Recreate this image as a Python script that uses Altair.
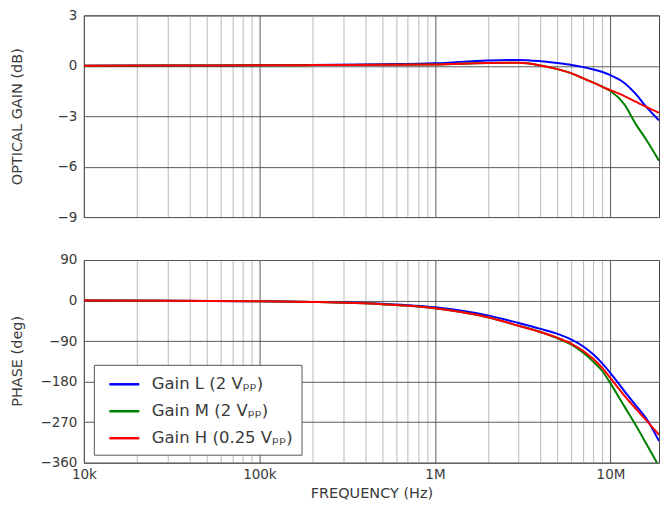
import altair as alt
import pandas as pd

# ---- data ----
freq = [1e4, 3e4, 1e5, 2e5, 5e5, 1e6, 2e6, 3e6, 4e6, 5e6, 6e6, 7e6, 8e6, 9e6,
        1e7, 1.2e7, 1.4e7, 1.6e7, 1.89e7]

series_names = ["Gain L (2 Vₚₚ)", "Gain M (2 Vₚₚ)", "Gain H (0.25 Vₚₚ)"]
series_colors = ["#0000ff", "#008000", "#ff0000"]

gain_L = [0, 0.01, 0.03, 0.05, 0.09, 0.15, 0.32, 0.35, 0.27, 0.16, 0.05, -0.08,
          -0.22, -0.37, -0.56, -1.02, -1.7, -2.45, -3.25]
gain_M = [0, 0.01, 0.03, 0.04, 0.06, 0.08, 0.17, 0.18, 0.02, -0.2, -0.45, -0.75,
          -1.0, -1.25, -1.5, -2.3, -3.5, -4.4, -5.65]
gain_H = [0, 0.01, 0.03, 0.04, 0.06, 0.08, 0.17, 0.18, 0.02, -0.2, -0.45, -0.75,
          -1.0, -1.25, -1.45, -1.8, -2.15, -2.45, -2.8]

phase_L = [0, -0.5, -1.5, -3, -7, -15, -33, -50, -63, -74, -87, -102, -120, -140,
           -161, -201, -234, -262, -312]
phase_M = [0, -0.5, -1.5, -3, -8, -17, -37, -56, -70, -84, -98, -116, -136, -157,
           -184, -235, -278, -318, -368]
phase_H = [0, -0.5, -1.5, -3, -8, -17, -37, -56, -70, -83, -96, -112, -130, -150,
           -172, -211, -241, -266, -298]

x_domain = [1e4, 1.89e7]
x_major = [1e4, 1e5, 1e6, 1e7]
x_tick_labels = ["10k", "100k", "1M", "10M"]
gain_ticks = [-9, -6, -3, 0, 3]
phase_ticks = [-360, -270, -180, -90, 0, 90]

# ---- build table ----
rows = []
for name, g, p in zip(series_names, [gain_L, gain_M, gain_H], [phase_L, phase_M, phase_H]):
    for i, f in enumerate(freq):
        rows.append({"series": name, "freq": f, "gain": g[i], "phase": p[i], "idx": i})
df = pd.DataFrame(rows)

x_grid_vals = []
for d in x_major:
    for m in range(1, 10):
        v = d * m
        if v <= x_domain[1]:
            x_grid_vals.append(v)

major_test = "indexof([" + ",".join(str(int(v)) for v in x_major) + "], datum.value) >= 0"
label_expr = " : ".join(
    f"datum.value == {int(v)} ? '{t}'" for v, t in zip(x_major, x_tick_labels)
) + " : ''"

grid_color = {"condition": {"test": major_test, "value": "#5a5a5a"}, "value": "#b8b8b8"}

FONT = "DejaVu Sans"
TXT = "#3a3a3a"

color_scale = alt.Scale(domain=series_names, range=series_colors)
legend = alt.Legend(title=None, orient="none", legendX=10, legendY=350,
                    symbolType="M-1.5,0H1.5", symbolSize=400,
                    symbolStrokeWidth=2.5, symbolOffset=11,
                    labelFontSize=16.5, labelFont=FONT, labelColor=TXT,
                    labelExpr="datum.label + '\u00a0\u00a0\u00a0\u00a0'",
                    labelOffset=16, rowPadding=7, padding=8,
                    strokeColor="#555", fillColor="white",
                    cornerRadius=0, labelLimit=400)

x_top = alt.X("freq:Q", scale=alt.Scale(type="log", domain=x_domain, nice=False),
              axis=alt.Axis(values=x_grid_vals, grid=True, gridColor=grid_color,
                            labels=False, ticks=False, domain=False, title=None))
x_bot = alt.X("freq:Q", scale=alt.Scale(type="log", domain=x_domain, nice=False),
              axis=alt.Axis(values=x_grid_vals, grid=True, gridColor=grid_color,
                            labelExpr=label_expr, ticks=False, domain=False,
                            labelFlush=False, labelOverlap=False, labelPadding=5,
                            labelFontSize=13.5, labelColor=TXT, labelFont=FONT,
                            title="FREQUENCY (Hz)", titleFontSize=14.5,
                            titleFontWeight="normal", titleColor=TXT, titleFont=FONT,
                            titlePadding=5))

top = alt.Chart(df).mark_line(strokeWidth=2, interpolate="monotone", clip=True).encode(
    x=x_top,
    y=alt.Y("gain:Q", scale=alt.Scale(domain=[-9, 3], nice=False),
            axis=alt.Axis(values=gain_ticks, grid=True, gridColor="#5a5a5a",
                          ticks=False, domain=False, labelFlush=False,
                          labelPadding=7, labelFontSize=13.5, labelColor=TXT,
                          labelFont=FONT, title="OPTICAL GAIN (dB)",
                          titleFontSize=14.5, titleFontWeight="normal",
                          titleColor=TXT, titleFont=FONT, titleX=-66, titleY=101,
                          titleBaseline="middle", titleAngle=270)),
    color=alt.Color("series:N", scale=color_scale, legend=legend),
    order="idx:Q",
).properties(width=576, height=202)

bottom = alt.Chart(df).mark_line(strokeWidth=2, interpolate="monotone", clip=True).encode(
    x=x_bot,
    y=alt.Y("phase:Q", scale=alt.Scale(domain=[-360, 90], nice=False),
            axis=alt.Axis(values=phase_ticks, grid=True, gridColor="#5a5a5a",
                          ticks=False, domain=False, labelFlush=False,
                          labelPadding=7, labelFontSize=13.5, labelColor=TXT,
                          labelFont=FONT, title="PHASE (deg)",
                          titleFontSize=14.5, titleFontWeight="normal",
                          titleColor=TXT, titleFont=FONT, titleX=-66, titleY=101,
                          titleBaseline="middle", titleAngle=270)),
    color=alt.Color("series:N", scale=color_scale, legend=legend),
    order="idx:Q",
).properties(width=576, height=203)

chart = alt.vconcat(top, bottom, spacing=28).resolve_scale(color="shared").properties(
    padding={"left": 9, "top": 7, "right": 0, "bottom": 5},
    background="white",
).configure_view(stroke="#444", strokeWidth=1)

chart.save("out.html", embed_options={"renderer": "svg", "actions": False})
